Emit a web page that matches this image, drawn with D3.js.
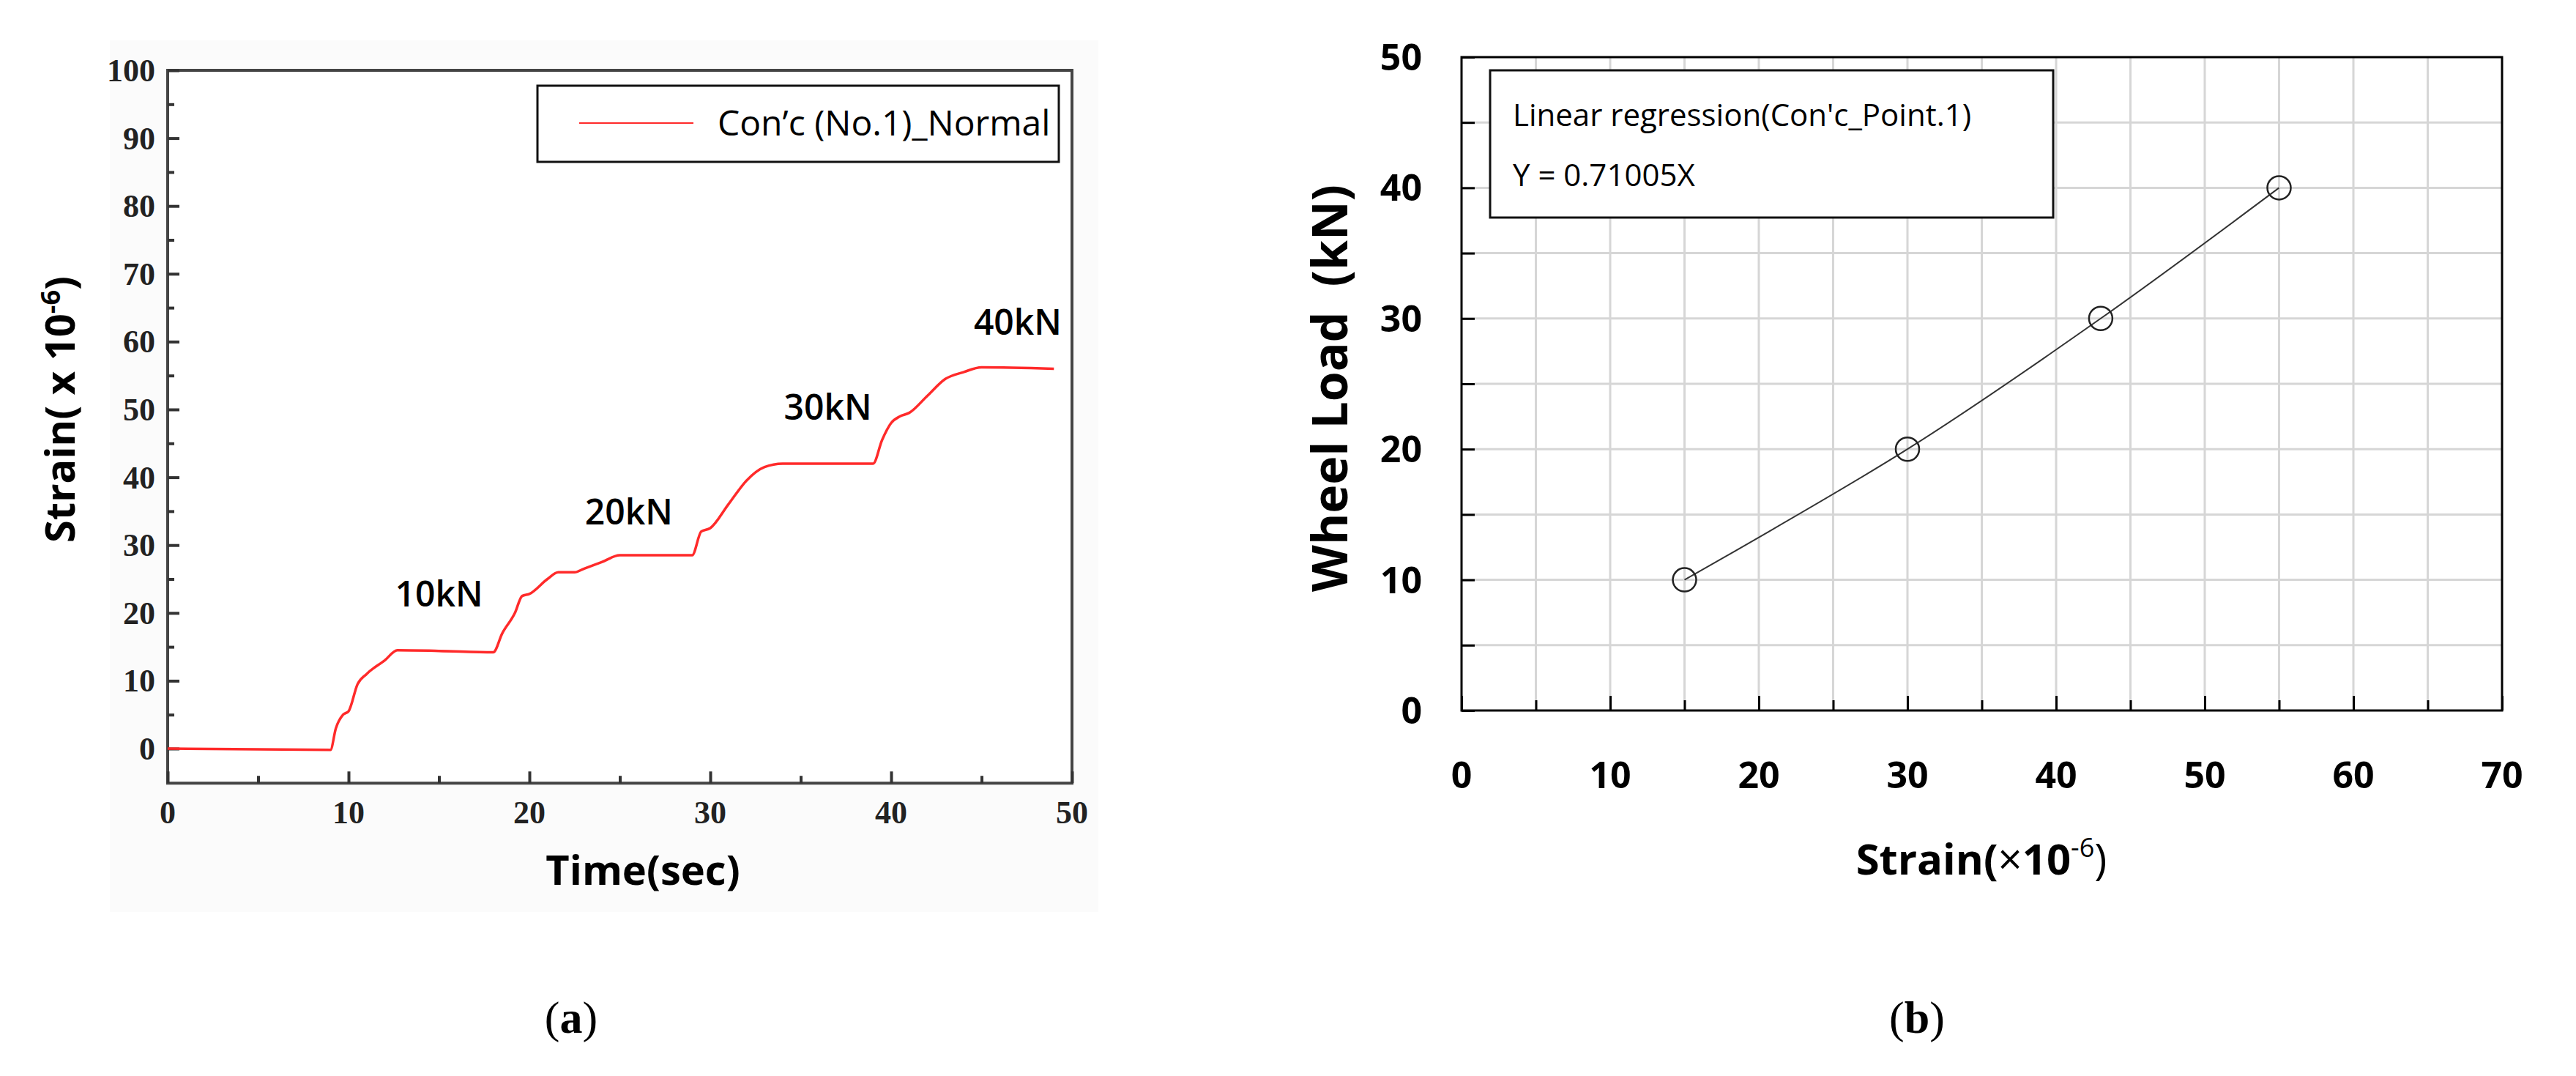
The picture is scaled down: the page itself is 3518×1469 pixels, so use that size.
<!DOCTYPE html>
<html><head><meta charset="utf-8">
<script src="https://cdn.jsdelivr.net/npm/d3@7"></script>
<style>body{margin:0;background:#fff}</style>
</head><body>
<svg id="chart" width="3518" height="1469"></svg>
<script>
// (a) strain vs time
const timeSec = [0, 9, 9.3, 9.7, 10, 10.5, 11, 12, 12.7, 15, 18, 18.5, 19.2, 19.6, 20, 21, 21.6, 22.5, 23, 24, 25, 29, 29.5, 30, 31, 32, 33, 34, 39, 39.5, 40, 40.5, 41, 42, 43, 44, 45, 49];
const strainA = [0, -0.2, 3, 5, 5.5, 9.5, 11, 13, 14.5, 14.4, 14.2, 17, 20, 22.5, 22.8, 25, 26, 26, 26.5, 27.5, 28.5, 28.5, 32, 32.5, 36, 39.5, 41.5, 42, 42, 45.5, 48, 49, 49.5, 52, 54.5, 55.5, 56.2, 56];
const loadLabels = ["10kN", "20kN", "30kN", "40kN"];
const loadLabelPos = [[15, 21], [25.5, 33], [36.5, 48.5], [47, 61]];
const ticksA_x = [0, 10, 20, 30, 40, 50];
const ticksA_y = [0, 10, 20, 30, 40, 50, 60, 70, 80, 90, 100];

// (b) wheel load vs strain
const strainB = [15, 30, 43, 55];
const wheelLoad = [10, 20, 30, 40];
const ticksB_x = [0, 10, 20, 30, 40, 50, 60, 70];
const ticksB_y = [0, 10, 20, 30, 40, 50];

const svg = d3.select("#chart");
const serif = "'Liberation Serif', 'DejaVu Serif', serif";
const sans = "'Open Sans', 'Noto Sans', sans-serif";

// ---------- chart (a) ----------
const xA = d3.scaleLinear().domain([0, 50]).range([229, 1464]);
const yA = d3.scaleLinear().domain([0, 100]).range([1022, 96]);
const yAbot = yA(-5.1);
const ga = svg.append("g");
ga.append("rect").attr("x", 150).attr("y", 55).attr("width", 1350).attr("height", 1190).attr("fill", "#fbfbfb");
ga.append("rect").attr("x", xA(0)).attr("y", yA(100)).attr("width", xA(50) - xA(0)).attr("height", yAbot - yA(100))
  .attr("fill", "#fff").attr("stroke", "#444").attr("stroke-width", 4);

ga.append("g").attr("transform", `translate(0,${yAbot})`)
  .call(d3.axisTop(xA).tickValues(d3.range(0, 51, 5)).tickSize(0).tickFormat(""))
  .call(g => g.select(".domain").remove())
  .call(g => g.selectAll(".tick line").attr("y2", d => d % 10 === 0 ? -16 : -10).attr("stroke", "#333").attr("stroke-width", 4));
ga.append("g").attr("transform", `translate(${xA(0)},0)`)
  .call(d3.axisRight(yA).tickValues(d3.range(0, 101, 5)).tickSize(0).tickFormat(""))
  .call(g => g.select(".domain").remove())
  .call(g => g.selectAll(".tick line").attr("x2", d => d % 10 === 0 ? 16 : 9).attr("stroke", "#333").attr("stroke-width", 4));

ga.selectAll(".xl").data(ticksA_x).join("text")
  .attr("x", d => xA(d)).attr("y", 1124).attr("text-anchor", "middle")
  .attr("font-family", serif).attr("font-weight", "bold").attr("font-size", 44).attr("fill", "#222").text(d => d);
ga.selectAll(".yl").data(ticksA_y).join("text")
  .attr("x", 212).attr("y", d => yA(d) + 15).attr("text-anchor", "end")
  .attr("font-family", serif).attr("font-weight", "bold").attr("font-size", 44).attr("fill", "#222").text(d => d);

ga.append("path").datum(d3.zip(timeSec, strainA))
  .attr("d", d3.line().x(d => xA(d[0])).y(d => yA(d[1])).curve(d3.curveMonotoneX))
  .attr("fill", "none").attr("stroke", "#ff2a2a").attr("stroke-width", 3.5);

ga.selectAll(".ll").data(loadLabels).join("text")
  .attr("x", (d, i) => xA(loadLabelPos[i][0])).attr("y", (d, i) => yA(loadLabelPos[i][1]))
  .attr("text-anchor", "middle").attr("font-family", sans).attr("font-size", 48).attr("font-weight", 600).text(d => d);

// legend (a)
ga.append("rect").attr("x", 734).attr("y", 117).attr("width", 712).attr("height", 104)
  .attr("fill", "#fff").attr("stroke", "#111").attr("stroke-width", 3);
ga.append("line").attr("x1", 791).attr("x2", 947).attr("y1", 168).attr("y2", 168).attr("stroke", "#ff2a2a").attr("stroke-width", 2);
ga.append("text").attr("x", 980).attr("y", 185).attr("font-family", sans).attr("font-size", 48).attr("font-weight", 500).text("Con’c (No.1)_Normal");

ga.append("text").attr("x", 878).attr("y", 1208).attr("text-anchor", "middle")
  .attr("font-family", sans).attr("font-weight", "bold").attr("font-size", 56).text("Time(sec)");
const ytA = ga.append("text").attr("transform", "translate(102,559) rotate(-90)").attr("text-anchor", "middle")
  .attr("font-family", sans).attr("font-weight", "bold").attr("font-size", 56);
ytA.append("tspan").text("Strain( x 10");
ytA.append("tspan").attr("dy", -20).attr("font-size", 36).text("-6");
ytA.append("tspan").attr("dy", 20).text(")");

const la = svg.append("text").attr("x", 780).attr("y", 1410).attr("text-anchor", "middle")
  .attr("font-family", serif).attr("font-size", 62);
la.append("tspan").text("(");
la.append("tspan").attr("font-weight", "bold").text("a");
la.append("tspan").text(")");

// ---------- chart (b) ----------
const xB = d3.scaleLinear().domain([0, 70]).range([1996, 3417]);
const yB = d3.scaleLinear().domain([0, 50]).range([970, 78]);
const gb = svg.append("g");
gb.append("g").selectAll("line").data(d3.range(5, 70, 5)).join("line")
  .attr("x1", d => xB(d)).attr("x2", d => xB(d)).attr("y1", yB(0)).attr("y2", yB(50)).attr("stroke", "#d6d6d6").attr("stroke-width", 3);
gb.append("g").selectAll("line").data(d3.range(5, 50, 5)).join("line")
  .attr("x1", xB(0)).attr("x2", xB(70)).attr("y1", d => yB(d)).attr("y2", d => yB(d)).attr("stroke", "#d6d6d6").attr("stroke-width", 3);
gb.append("g").attr("transform", `translate(0,${yB(0)})`)
  .call(d3.axisTop(xB).tickValues(d3.range(0, 71, 5)).tickSize(0).tickFormat(""))
  .call(g => g.select(".domain").remove())
  .call(g => g.selectAll(".tick line").attr("y2", d => d % 10 === 0 ? -20 : -14).attr("stroke", "#000").attr("stroke-width", 3));
gb.append("g").attr("transform", `translate(${xB(0)},0)`)
  .call(d3.axisRight(yB).tickValues(d3.range(0, 51, 5)).tickSize(0).tickFormat(""))
  .call(g => g.select(".domain").remove())
  .call(g => g.selectAll(".tick line").attr("x2", 18).attr("stroke", "#000").attr("stroke-width", 3));
gb.append("rect").attr("x", xB(0)).attr("y", yB(50)).attr("width", xB(70) - xB(0)).attr("height", yB(0) - yB(50))
  .attr("fill", "none").attr("stroke", "#000").attr("stroke-width", 3);

gb.selectAll(".xl").data(ticksB_x).join("text")
  .attr("x", d => xB(d)).attr("y", 1076).attr("text-anchor", "middle")
  .attr("font-family", sans).attr("font-weight", "bold").attr("font-size", 50).text(d => d);
gb.selectAll(".yl").data(ticksB_y).join("text")
  .attr("x", 1942).attr("y", d => yB(d) + 18).attr("text-anchor", "end")
  .attr("font-family", sans).attr("font-weight", "bold").attr("font-size", 50).text(d => d);

const ptsB = d3.zip(strainB, wheelLoad);
gb.append("path").datum(ptsB)
  .attr("d", d3.line().x(d => xB(d[0])).y(d => yB(d[1])).curve(d3.curveCatmullRom))
  .attr("fill", "none").attr("stroke", "#333").attr("stroke-width", 2);
gb.selectAll("circle").data(ptsB).join("circle")
  .attr("cx", d => xB(d[0])).attr("cy", d => yB(d[1])).attr("r", 16)
  .attr("fill", "none").attr("stroke", "#222").attr("stroke-width", 2.5);

gb.append("rect").attr("x", 2035).attr("y", 96).attr("width", 769).attr("height", 201)
  .attr("fill", "#fff").attr("stroke", "#111").attr("stroke-width", 3);
gb.append("text").attr("x", 2066).attr("y", 172).attr("font-family", sans).attr("font-size", 42).attr("font-weight", 500).text("Linear regression(Con'c_Point.1)");
gb.append("text").attr("x", 2066).attr("y", 254).attr("font-family", sans).attr("font-size", 42).attr("font-weight", 500).text("Y = 0.71005X");

const xtB = gb.append("text").attr("x", 2706).attr("y", 1194).attr("text-anchor", "middle")
  .attr("font-family", sans).attr("font-weight", "bold").attr("font-size", 58);
xtB.append("tspan").text("Strain(");
xtB.append("tspan").attr("font-weight", "normal").text("×");
xtB.append("tspan").text("10");
xtB.append("tspan").attr("dy", -24).attr("font-size", 36).attr("font-weight", "normal").text("-6");
xtB.append("tspan").attr("dy", 24).attr("font-weight", "normal").text(")");
gb.append("text").attr("transform", "translate(1840,530) rotate(-90)").attr("text-anchor", "middle")
  .attr("font-family", sans).attr("font-weight", "bold").attr("font-size", 66).attr("xml:space", "preserve").text("Wheel Load  (kN)");

const lb = svg.append("text").attr("x", 2618).attr("y", 1410).attr("text-anchor", "middle")
  .attr("font-family", serif).attr("font-size", 62);
lb.append("tspan").text("(");
lb.append("tspan").attr("font-weight", "bold").text("b");
lb.append("tspan").text(")");
</script>
</body></html>
